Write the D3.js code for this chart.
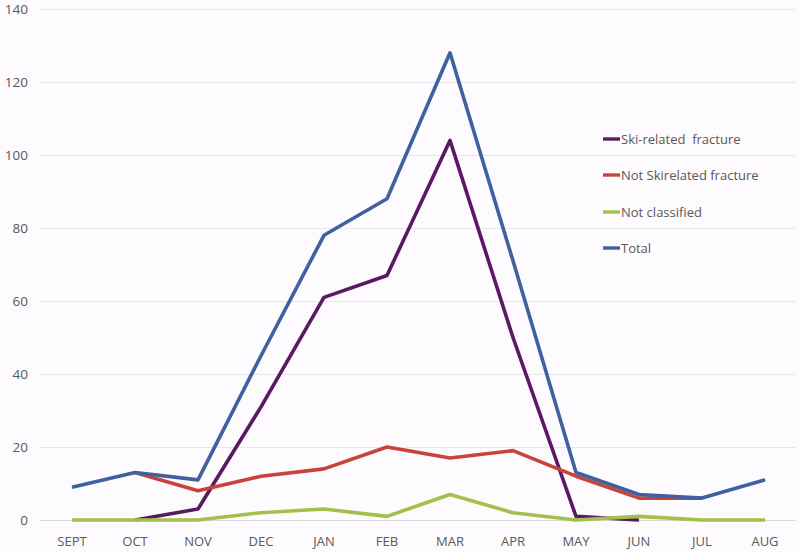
<!DOCTYPE html>
<html>
<head>
<meta charset="utf-8">
<script src="https://cdn.jsdelivr.net/npm/d3@7"></script>
<style>
  html, body { margin: 0; padding: 0; background: #fdfbfd; }
  svg { display: block; }
  text { font-family: "Open Sans", "Liberation Sans", sans-serif; fill: #595959; white-space: pre; }
</style>
</head>
<body>
<svg id="chart" width="800" height="552"></svg>
<script>
const months = ["SEPT","OCT","NOV","DEC","JAN","FEB","MAR","APR","MAY","JUN","JUL","AUG"];
const skiRelated = [null, 0, 3, 31, 61, 67, 104, 50, 1, 0, null, null];
const notSkiRelated = [null, 13, 8, 12, 14, 20, 17, 19, 12, 6, 6, null];
const notClassified = [0, 0, 0, 2, 3, 1, 7, 2, 0, 1, 0, 0];
const total = [9, 13, 11, 45, 78, 88, 128, 71, 13, 7, 6, 11];
const yTicks = [0, 20, 40, 60, 80, 100, 120, 140];

const seriesNames = ["Ski-related  fracture", "Not Skirelated fracture", "Not classified", "Total"];
const seriesValues = [skiRelated, notSkiRelated, notClassified, total];
const colors = ["#5a1a63", "#c8443b", "#a3c04a", "#40609f"];

const svg = d3.select("#chart");
const x = d3.scalePoint().domain(months).range([72, 765]);
const y = d3.scaleLinear().domain([0, 140]).range([520, 9]);

// gridlines
svg.append("g").selectAll("line").data(yTicks).join("line")
  .attr("x1", 40).attr("x2", 796)
  .attr("y1", d => y(d) + 0.5).attr("y2", d => y(d) + 0.5)
  .attr("stroke", d => d === 0 ? "#d9d9d9" : "#e8e6e8").attr("stroke-width", 1);

// y labels
svg.append("g").selectAll("text").data(yTicks).join("text")
  .attr("x", 28).attr("y", d => y(d)).attr("dy", "0.35em")
  .attr("text-anchor", "end").attr("font-size", 13.5).text(d => d);

// x labels
svg.append("g").selectAll("text").data(months).join("text")
  .attr("x", d => x(d)).attr("y", 546)
  .attr("text-anchor", "middle").attr("font-size", 13).text(d => d);

const line = d3.line()
  .defined(d => d.v !== null)
  .x(d => x(d.m)).y(d => y(d.v));

seriesValues.forEach((vals, i) => {
  svg.append("path")
    .datum(months.map((m, j) => ({ m, v: vals[j] })))
    .attr("d", line)
    .attr("fill", "none")
    .attr("stroke", colors[i])
    .attr("stroke-width", 3.6)
    .attr("stroke-linejoin", "round")
    .attr("stroke-linecap", "butt");
});

// legend
const legY = [139, 175, 212, 248];
const leg = svg.append("g");
seriesNames.forEach((name, i) => {
  leg.append("line")
    .attr("x1", 603).attr("x2", 620)
    .attr("y1", legY[i]).attr("y2", legY[i])
    .attr("stroke", colors[i]).attr("stroke-width", 3.4);
  leg.append("text")
    .attr("x", 621).attr("y", legY[i]).attr("dy", "0.35em")
    .attr("font-size", 13).text(name);
});
</script>
</body>
</html>
